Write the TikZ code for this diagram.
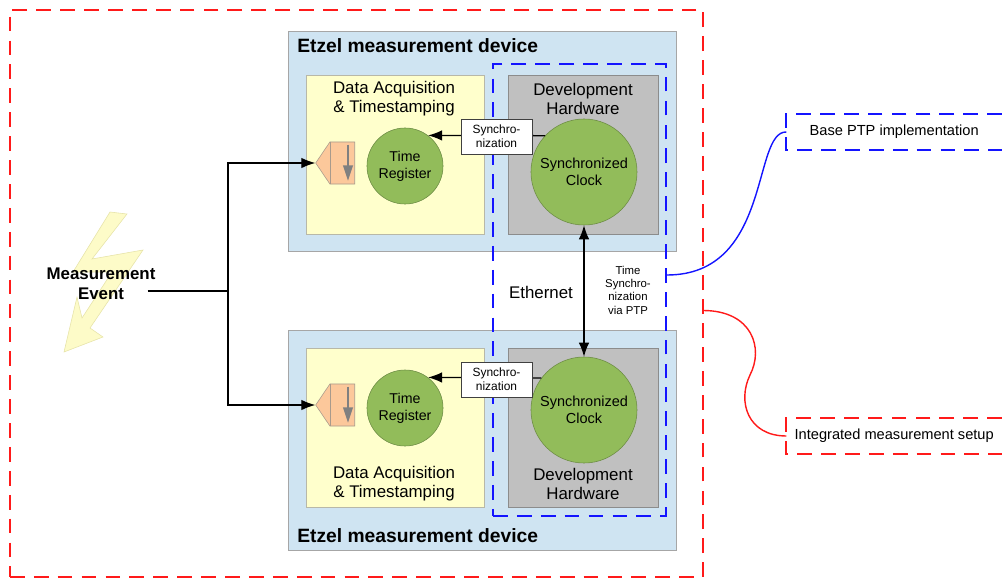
\documentclass[tikz,border=0pt]{standalone}
\usepackage{fontspec}
\setmainfont{Liberation Sans}
\usetikzlibrary{arrows.meta,positioning,shapes.symbols}

\definecolor{devblue}{HTML}{CFE4F2}
\definecolor{devedge}{HTML}{A6A6A6}
\definecolor{daqyellow}{HTML}{FFFFCC}
\definecolor{daqedge}{HTML}{B8B8A8}
\definecolor{hwgray}{HTML}{C0C0C0}
\definecolor{hwedge}{HTML}{8C8C8C}
\definecolor{clockgreen}{HTML}{92BC5A}
\definecolor{clockedge}{HTML}{6C8C44}
\definecolor{inorange}{HTML}{FCC89B}
\definecolor{inedge}{HTML}{A89A8C}
\definecolor{boltfill}{HTML}{FDFBC8}
\definecolor{boltedge}{HTML}{E6E3A8}
\definecolor{ptpblue}{HTML}{1414FF}
\definecolor{setupred}{HTML}{FF1A1A}

\begin{document}
\begin{tikzpicture}[
  x=0.025cm, y=-0.025cm,
  device/.style={draw=devedge, fill=devblue, minimum width=9.7cm, minimum height=5.5cm, inner sep=0},
  daqbox/.style={draw=daqedge, fill=daqyellow, minimum width=4.45cm, minimum height=3.975cm, inner sep=0},
  hwbox/.style={draw=hwedge, fill=hwgray, minimum width=3.75cm, minimum height=3.975cm, inner sep=0},
  clock/.style={circle, draw=clockedge, fill=clockgreen, minimum size=2.65cm, inner sep=0, align=center, font=\fontsize{10.3}{12.5}\selectfont},
  register/.style={circle, draw=clockedge, fill=clockgreen, minimum size=1.9cm, inner sep=0, align=center, font=\fontsize{10.1}{12}\selectfont},
  syncbox/.style={draw=black!75, fill=white, minimum width=1.775cm, minimum height=0.875cm, inner sep=0, align=center, font=\fontsize{8.5}{10}\selectfont},
  inport/.style={signal, signal to=west, signal pointer angle=112, draw=inedge, fill=inorange, minimum width=0.975cm, minimum height=1.05cm, inner sep=0, anchor=east},
  title/.style={anchor=west, inner sep=0, font=\fontsize{13.7}{15}\bfseries\selectfont},
  boxtext/.style={align=center, inner sep=0, font=\fontsize{12}{13.5}\selectfont},
  small/.style={align=center, inner sep=0, font=\fontsize{8.1}{9.5}\selectfont},
  note/.style={anchor=east, minimum width=5.375cm, minimum height=0.9cm, inner sep=0, font=\fontsize{10.4}{12}\selectfont},
  frame/.style={line width=1.3pt, dash pattern=on 10.5pt off 6.5pt},
  conn/.style={line width=0.9pt, -{Latex[length=10pt,width=7.5pt]}},
  downarrow/.style={draw=gray, line width=1.2pt, -{Triangle[length=11pt,width=7pt]}}
]
\useasboundingbox (0,0) rectangle (1002,579);

% lightning
\draw[boltedge, fill=boltfill] (110,212) -- (127,214) -- (92,259) -- (143,250) -- (90,328)
  -- (103,337) -- (64,352) -- (77,297) -- (82,318) -- (112,272) -- (73,272) -- cycle;

% outer setup frame and the two devices
\node[frame, draw=setupred, minimum width=17.325cm, minimum height=14.175cm] (setup) at (356.5,293.5) {};
\node[device] (dev1) at (482,141) {};
\node[device] (dev2) at (482,440) {};
\node[title] (ttl1) at (297,46) {Etzel measurement device};
\node[title] (ttl2) at (297,536) {Etzel measurement device};

\node[daqbox] (daq1) at (395,154.5) {};
\node[daqbox] (daq2) at (395,427.5) {};
\node[hwbox] (hw1) at (583,154.5) {};
\node[hwbox] (hw2) at (583,427.5) {};
\node[frame, draw=ptpblue, minimum width=4.325cm, minimum height=11.3cm] (ptp) at (579.5,290) {};

\node[boxtext] at (394,98.5) {Data Acquisition\\\& Timestamping};
\node[boxtext] at (394,483.5) {Data Acquisition\\\& Timestamping};
\node[boxtext] at (583,98.5) {Development\\Hardware};
\node[boxtext] at (583,483.5) {Development\\Hardware};

\node[clock] (clk1) at (584,172) {Synchronized\\Clock};
\node[clock] (clk2) at (584,410) {Synchronized\\Clock};
\node[register] (reg1) at (405,166) {Time\\Register};
\node[register] (reg2) at (405,408) {Time\\Register};

\draw[conn] (clk1.137) -- (reg1.53);
\draw[conn] (clk2.143) -- (reg2.53);
\node[syncbox] (sync1) at (496.5,136.5) {Synchro-\\nization};
\node[syncbox] (sync2) at (496.5,379.5) {Synchro-\\nization};

% timestamp inputs
\node[inport] (in1) at (355,163) {};
\node[inport] (in2) at (355,405) {};
\foreach \n in {in1,in2} {
  \draw[inedge] ([shift={(-25,0)}]\n.north east) -- ([shift={(-25,0)}]\n.south east);
  \draw[downarrow] ([shift={(-7,3)}]\n.north east) -- ([shift={(-7,-3)}]\n.south east);
}

% network link
\draw[line width=0.9pt, {Latex[length=10pt,width=7.5pt]}-{Latex[length=10pt,width=7.5pt]}] (clk1) -- (clk2);
\node[boxtext] (eth) at (541,292) {Ethernet};
\node[small] (ptplink) at (628,290) {Time\\Synchro-\\nization\\via PTP};

% trigger
\node[align=center, inner sep=0, font=\fontsize{12}{14}\bfseries\selectfont] (mev) at (101,284) {Measurement\\Event};
\coordinate (fork) at (228,291);
\draw[line width=0.9pt] ([shift={(-8,7)}]mev.east) -- (fork);
\draw[conn] (fork) |- (in1.west);
\draw[conn] (fork) |- (in2.west);

% annotations
\node[note] (ptpnote) at (1002,132) {Base PTP implementation};
\node[note] (setupnote) at (1002,436) {Integrated measurement setup};
\draw[frame, draw=ptpblue] (ptpnote.north east) -- (ptpnote.north west) -- (ptpnote.south west) -- (ptpnote.south east);
\draw[frame, draw=setupred] (setupnote.north east) -- (setupnote.north west) -- (setupnote.south west) -- (setupnote.south east);
\draw[ptpblue, line width=1pt] ([shift={(0,-15)}]ptp.east) .. controls (772,275) and (752,131) .. (ptpnote.west);
\draw[setupred, line width=1pt] ([shift={(0,17)}]setup.east) .. controls (752,311) and (764,348) .. (750,375)
  .. controls (737,402) and (748,436) .. (setupnote.west);

\end{tikzpicture}
\end{document}
